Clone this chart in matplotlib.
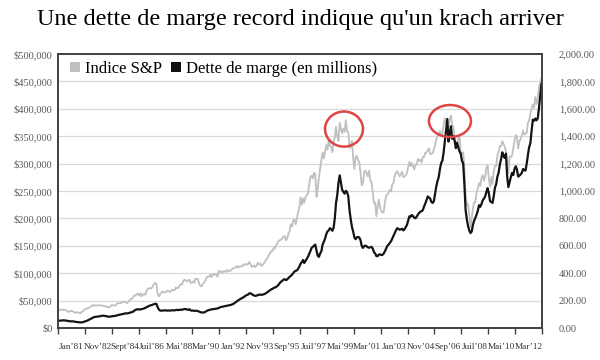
import numpy as np
import matplotlib
matplotlib.use('Agg')
import matplotlib.pyplot as plt
from matplotlib.patches import Ellipse, Patch

# monthly values, Jan 1981 .. Dec 2013
sp500 = [
    129.6, 131.3, 136.0, 132.8, 132.6, 131.2, 130.9, 122.8, 116.2, 121.9, 126.4, 122.6,
    120.4, 113.1, 112.0, 116.4, 111.9, 109.6, 107.1, 119.5, 120.4, 133.7, 138.5, 140.6,
    145.3, 148.1, 153.0, 164.4, 162.4, 168.1, 162.6, 164.4, 166.1, 163.6, 166.4, 164.9,
    163.4, 157.1, 159.2, 160.1, 150.6, 153.2, 150.7, 166.7, 166.1, 166.1, 163.6, 167.2,
    179.6, 181.2, 180.7, 179.8, 189.6, 191.9, 190.9, 188.6, 182.1, 189.8, 202.2, 211.3,
    211.8, 226.9, 238.9, 235.5, 247.4, 250.8, 236.1, 252.9, 231.3, 244.0, 249.2, 242.2,
    274.1, 284.2, 291.7, 288.4, 290.1, 304.0, 318.7, 329.8, 321.8, 251.8, 230.3, 247.1,
    257.1, 267.8, 258.9, 261.3, 262.2, 273.5, 272.0, 261.5, 271.9, 279.0, 273.7, 277.7,
    297.5, 288.9, 294.9, 309.6, 320.5, 318.0, 346.1, 351.5, 349.2, 340.4, 346.0, 353.4,
    329.1, 331.9, 339.9, 330.8, 361.2, 358.0, 356.2, 322.6, 306.1, 304.0, 322.2, 330.2,
    343.9, 367.1, 375.2, 375.4, 389.8, 371.2, 387.8, 395.4, 387.9, 392.5, 375.2, 417.1,
    408.8, 412.7, 403.7, 415.0, 415.4, 408.1, 424.2, 414.0, 417.8, 418.7, 431.4, 435.7,
    438.8, 443.4, 451.7, 440.2, 450.2, 450.5, 448.1, 463.6, 458.9, 467.8, 461.8, 466.5,
    481.6, 467.1, 445.8, 450.9, 456.5, 444.3, 458.3, 475.5, 462.7, 472.4, 453.7, 459.3,
    470.4, 487.4, 500.7, 514.7, 533.4, 544.8, 562.1, 561.9, 584.4, 581.5, 605.4, 615.9,
    636.0, 640.4, 645.5, 654.2, 669.1, 670.6, 640.0, 652.0, 687.3, 705.3, 757.0, 740.7,
    786.2, 790.8, 757.1, 801.3, 848.3, 885.1, 954.3, 899.5, 947.3, 914.6, 955.4, 970.4,
    980.3, 1049.3, 1101.8, 1111.8, 1090.8, 1133.8, 1120.7, 957.3, 1017.0, 1098.7, 1163.6, 1229.2,
    1279.6, 1238.3, 1286.4, 1335.2, 1301.8, 1372.7, 1328.7, 1320.4, 1282.7, 1362.9, 1388.9, 1469.3,
    1394.5, 1366.4, 1498.6, 1452.4, 1420.6, 1454.6, 1430.8, 1517.7, 1436.5, 1429.4, 1315.0, 1320.3,
    1366.0, 1239.9, 1160.3, 1249.5, 1255.8, 1224.4, 1211.2, 1133.6, 1040.9, 1059.8, 1139.5, 1148.1,
    1130.2, 1106.7, 1147.4, 1076.9, 1067.1, 989.8, 911.6, 916.1, 815.3, 885.8, 936.3, 879.8,
    855.7, 841.2, 848.2, 916.9, 963.6, 974.5, 990.3, 1008.0, 996.0, 1050.7, 1058.2, 1111.9,
    1131.1, 1144.9, 1126.2, 1107.3, 1120.7, 1140.8, 1101.7, 1104.2, 1114.6, 1130.2, 1173.8, 1211.9,
    1181.3, 1203.6, 1180.6, 1156.9, 1191.5, 1191.3, 1234.2, 1220.3, 1228.8, 1207.0, 1249.5, 1248.3,
    1280.1, 1280.7, 1294.8, 1310.6, 1270.1, 1270.2, 1276.7, 1303.8, 1335.9, 1377.9, 1400.6, 1418.3,
    1438.2, 1406.8, 1420.9, 1482.4, 1530.6, 1503.4, 1455.3, 1474.0, 1526.8, 1549.4, 1481.1, 1468.4,
    1378.6, 1330.6, 1322.7, 1385.6, 1400.4, 1280.0, 1267.4, 1282.8, 1166.4, 968.8, 896.2, 903.3,
    825.9, 735.1, 797.9, 872.8, 919.1, 919.3, 987.5, 1020.6, 1057.1, 1036.2, 1095.6, 1115.1,
    1073.9, 1104.5, 1169.4, 1186.7, 1089.4, 1030.7, 1101.6, 1049.3, 1141.2, 1183.3, 1180.6, 1257.6,
    1286.1, 1327.2, 1325.8, 1363.6, 1345.2, 1320.6, 1292.3, 1218.9, 1131.4, 1253.3, 1247.0, 1257.6,
    1312.4, 1365.7, 1408.5, 1397.9, 1310.3, 1362.2, 1379.3, 1406.6, 1440.7, 1412.2, 1416.2, 1426.2,
    1498.1, 1514.7, 1569.2, 1597.6, 1630.7, 1606.3, 1685.7, 1633.0, 1681.6, 1756.5, 1790.0, 1820.0,
]

margin_debt = [
    13200, 13300, 13600, 13900, 14000, 13800, 13600, 13100, 12500, 12300, 12300, 12400,
    12100, 11600, 11200, 11000, 10700, 10400, 10100, 10300, 10700, 11600, 12300, 13000,
    14000, 15200, 16400, 17700, 18900, 19900, 20400, 20600, 20800, 21100, 21600, 22300,
    22500, 22200, 21900, 21600, 21000, 20800, 20500, 21200, 21500, 21800, 22000, 22400,
    23300, 23800, 24200, 24600, 25200, 25900, 26400, 26800, 26600, 27000, 27700, 28400,
    29000, 29800, 31800, 33200, 33900, 34300, 33600, 34200, 34400, 35100, 35800, 36800,
    38000, 39300, 40400, 41000, 41800, 42600, 43500, 44200, 44100, 38100, 34000, 31900,
    31600, 31900, 32100, 32300, 31900, 31800, 32100, 31600, 31900, 32400, 32100, 32300,
    32800, 33200, 32600, 33100, 33600, 33200, 34000, 34500, 34700, 33700, 33100, 34300,
    32200, 31600, 31900, 31100, 31600, 31300, 30900, 29800, 28900, 28200, 28500, 28200,
    29400, 30800, 32100, 32600, 33500, 33900, 34200, 34600, 35100, 35300, 35600, 36700,
    37600, 38400, 38900, 39500, 40100, 40600, 40900, 41200, 41700, 42100, 43200, 44000,
    45600, 47100, 48600, 50200, 52100, 53200, 54600, 55700, 57100, 59100, 60100, 61000,
    63100, 63400, 61900, 60100, 59400, 58600, 59100, 60100, 60600, 61100, 60400, 61000,
    61600, 62700, 64100, 65600, 67200, 68700, 70600, 71500, 73100, 73900, 75100, 76700,
    79100, 82100, 84600, 86100, 88200, 89100, 87400, 88600, 91200, 93100, 95200, 97400,
    100200, 103100, 104300, 105200, 108100, 112100, 117300, 120400, 124100, 118600, 122300, 126100,
    130100, 135200, 140300, 146100, 148300, 150400, 152100, 141300, 131900, 129800, 136100, 140200,
    152300, 157400, 163100, 171200, 176300, 178100, 182200, 180300, 177400, 182800, 200600, 228500,
    243200, 265200, 278500, 265400, 252100, 248300, 245200, 250300, 248100, 240200, 215100, 198800,
    184200, 176100, 165300, 162100, 165400, 166200, 165100, 160300, 150100, 146200, 149300, 150400,
    149100, 147300, 146500, 147200, 148100, 145200, 138300, 136100, 131200, 131100, 134100, 134400,
    133100, 133500, 136100, 140200, 145300, 150100, 152200, 155100, 158300, 163200, 168100, 173200,
    178200, 182100, 181200, 179300, 180100, 181200, 178100, 180200, 184300, 188100, 196200, 203800,
    203100, 206200, 204100, 201300, 200200, 203100, 207200, 210100, 212300, 213100, 215200, 221700,
    227100, 233200, 240100, 238200, 236100, 230200, 228100, 231200, 245100, 258200, 268100, 275400,
    290100, 301200, 305100, 320300, 340200, 360100, 381400, 340200, 355300, 368100, 345200, 350100,
    342100, 328200, 338100, 330200, 322100, 318300, 305100, 300200, 262100, 215100, 198200, 186100,
    178100, 173200, 176100, 188300, 196100, 201200, 207100, 214300, 224100, 221200, 226300, 233100,
    236200, 240100, 248300, 255100, 246200, 231300, 230100, 228200, 240300, 256100, 262200, 276200,
    283100, 298200, 308100, 320700, 314300, 310200, 318100, 276300, 257100, 266200, 275300, 283100,
    279100, 290200, 295100, 289300, 276200, 278100, 280300, 283100, 290200, 288100, 287200, 300100,
    316200, 330100, 337200, 360100, 380300, 378100, 382200, 379100, 382300, 401200, 423100, 445100,
]

tick_labels = ["Jan\u201981", "Nov\u201982", "Sept\u201984", "Juil\u201986", "Mai\u201988",
               "Mar\u201990", "Jan\u201992", "Nov\u201993", "Sep\u201995", "Juil\u201997",
               "Mai\u201999", "Mar\u201901", "Jan\u201903", "Nov\u201904", "Sep\u201906",
               "Juil\u201908", "Mai\u201910", "Mar\u201912"]

title = "Une dette de marge record indique qu'un krach arriver"
serif = 'Liberation Serif'

N = len(margin_debt)
x = np.arange(N)

fig = plt.figure(figsize=(6, 3.6), dpi=100)
ax = fig.add_axes([58/600, 32/360, 484/600, 274/360])
ax2 = ax.twinx()
ax.set_zorder(ax2.get_zorder() + 1)
ax.patch.set_visible(False)

# S&P on the right axis, grid lives there so it stays behind both lines
ax2.grid(axis='y', color='#d9d9d9', lw=0.9)
ax2.set_axisbelow(True)
ax2.plot(x, sp500, color='#c0c0c0', lw=1.3)
ax2.set_ylim(0, 2000)
rt = np.arange(0, 2001, 200)
ax2.set_yticks(rt)
ax2.set_yticklabels([f"{v:,.2f}" for v in rt], family=serif, size=7.5, color='#595959')
ax2.tick_params(axis='y', length=0, pad=12)

ax.plot(x, margin_debt, color='#141414', lw=1.6)
ax.set_ylim(0, 500000)
lt = np.arange(0, 500001, 50000)
ax.set_yticks(lt)
ax.set_yticklabels([f"${v:,}" for v in lt], family=serif, size=7.5, color='#595959')
ax.tick_params(axis='y', length=0, pad=4)

ax.set_xlim(-0.5, N - 0.5)
ax.set_xticks(np.arange(-0.5, N, 22))
ax.set_xticklabels([])
ax.set_xticks(np.arange(len(tick_labels)) * 22 + 10.5, minor=True)
ax.set_xticklabels(tick_labels, minor=True, family=serif, size=6.7, color='#333333')
ax.tick_params(axis='x', which='major', length=4, width=1, color='#404040', direction='out')
ax.tick_params(axis='x', which='minor', length=0, pad=11)

for a in (ax, ax2):
    for s in a.spines.values():
        s.set_color('#404040')
        s.set_linewidth(1.2)

# red circles round the two peaks
for cx, cy, w, h in [(233.5, 363000, 31, 64000), (320.2, 377700, 34.4, 58400)]:
    ax.add_patch(Ellipse((cx, cy), w, h, fill=False, ec='#e04545', lw=1.8, zorder=5))

handles = [Patch(fc='#c0c0c0', ec='none'), Patch(fc='#111111', ec='none')]
ax.legend(handles, ["Indice S&P", "Dette de marge (en millions)"], loc='upper left',
          bbox_to_anchor=(0.012, 1.0), ncol=2, frameon=False,
          prop={'family': serif, 'size': 12}, handlelength=0.6, handleheight=0.6,
          handletextpad=0.3, columnspacing=0.5, borderaxespad=0.1, borderpad=0.3)

fig.text(0.5, 1 - 20/360, title, ha='center', va='center', size=17.5, family=serif)

fig.savefig('out.png', dpi=100)
